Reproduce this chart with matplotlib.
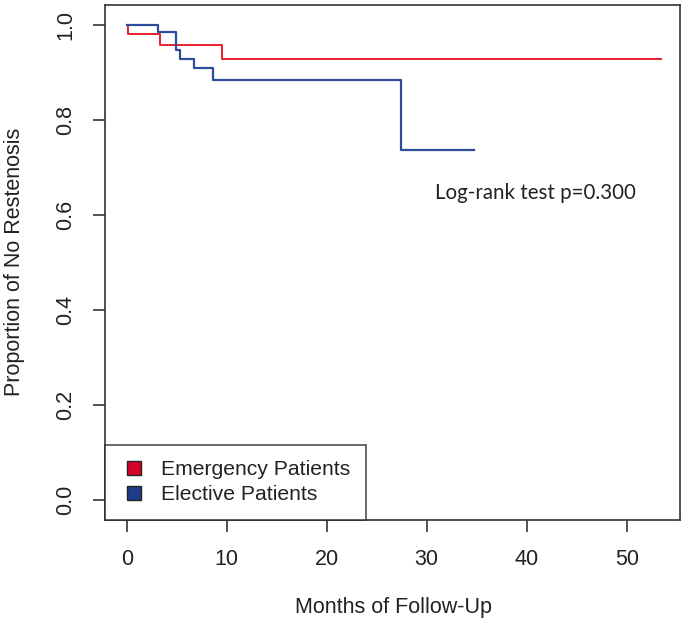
import matplotlib
matplotlib.use("Agg")
import matplotlib.pyplot as plt
from matplotlib.lines import Line2D

# Kaplan-Meier steps (months, proportion without restenosis)
emerg_time = [0.0, 0.1, 3.3, 9.5]
emerg_surv = [1.0, 0.981, 0.958, 0.929]
emerg_end = 53.4

elect_time = [0.0, 3.1, 4.9, 5.3, 6.7, 8.6, 27.4]
elect_surv = [1.0, 0.986, 0.948, 0.929, 0.909, 0.884, 0.737]
elect_end = 34.7

group_names = ["Emergency Patients", "Elective Patients"]
x_ticks = [0, 10, 20, 30, 40, 50]
y_ticks = [0.0, 0.2, 0.4, 0.6, 0.8, 1.0]
pvalue_text = "Log-rank test p=0.300"

line_red = "#e8202e"
line_blue = "#2e4c9c"
fill_red = "#d7002a"
fill_blue = "#1f3d8a"
axis_col = "#333333"

plt.rcParams["font.family"] = ["Liberation Sans", "DejaVu Sans"]

fig = plt.figure(figsize=(6.86, 6.26), dpi=100)
ax = fig.add_axes([105 / 686, 1 - 519.5 / 626, 575 / 686, 514.5 / 626])

ax.step(emerg_time + [emerg_end], emerg_surv + [emerg_surv[-1]], where="post",
        color=line_red, lw=1.4)
ax.step(elect_time + [elect_end], elect_surv + [elect_surv[-1]], where="post",
        color=line_blue, lw=1.6)

ax.set_xlim(-2.17, 55.33)
ax.set_ylim(-0.041, 1.042)
ax.set_xticks(x_ticks)
ax.set_yticks(y_ticks)
ax.set_yticklabels([f"{v:.1f}" for v in y_ticks], rotation=90, va="center")

for s in ax.spines.values():
    s.set_color(axis_col)
    s.set_linewidth(1.2)
ax.tick_params(length=8.5, width=1.2, color=axis_col, labelsize=15.5,
               labelcolor="#222222")
ax.tick_params(axis="x", pad=13)
ax.tick_params(axis="y", pad=12)

fig.text(394 / 686, 1 - 607 / 626, "Months of Follow-Up", ha="center",
         va="center", fontsize=15.5, color="#222222")
fig.text(15 / 686, 1 - 262 / 626, "Proportion of No Restenosis", ha="center",
         va="center", rotation=90, fontsize=15.5, color="#222222")

fig.text(535 / 686, 1 - 193 / 626, pvalue_text, ha="center", va="center",
         fontsize=14.8, family=["Lato", "DejaVu Sans"], color="#222222")

handles = [
    Line2D([], [], ls="none", marker="s", markersize=10.5, mfc=fill_red,
           mec="#222222", mew=1.0),
    Line2D([], [], ls="none", marker="s", markersize=10.5, mfc=fill_blue,
           mec="#222222", mew=1.0),
]
leg = ax.legend(handles, group_names, loc="lower left", bbox_to_anchor=(0, 0),
                borderaxespad=0, fontsize=15.2, frameon=True, fancybox=False,
                borderpad=0.72, handlelength=1.35, handletextpad=0.6,
                labelspacing=0.28)
leg.get_frame().set_edgecolor("#222222")
leg.get_frame().set_linewidth(1.2)
for t in leg.get_texts():
    t.set_color("#222222")

fig.savefig("out.png", dpi=100)
